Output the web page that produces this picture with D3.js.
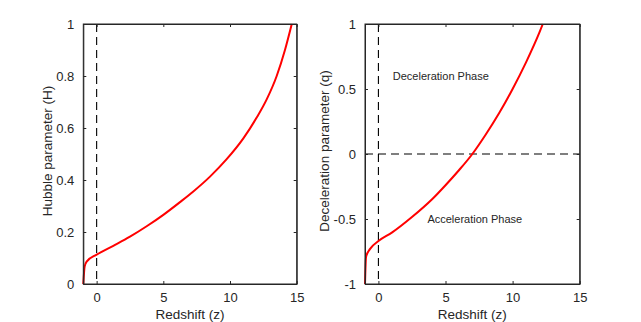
<!DOCTYPE html>
<html lang="en">
<head>
  <meta charset="UTF-8">
  <title>Hubble and deceleration parameter</title>
  <script src="https://d3js.org/d3.v7.min.js"></script>
  <style>
    body { margin: 0; background: #fff; }
    text { font-family: "Liberation Sans", Arial, Helvetica, sans-serif; fill: #262626; }
  </style>
</head>
<body>
  <svg id="chart" width="641" height="322"></svg>

  <script>
    // Hubble parameter H(z)
    const zH = [-1, -0.9, -0.75, 0, 1.25, 2.5, 3.75, 5, 6.25, 7.25, 8.5, 9.75, 11, 12, 12.75, 13.5, 14.12, 14.63];
    const hubble = [0, 0.067, 0.086, 0.113, 0.147, 0.182, 0.222, 0.266, 0.315, 0.356, 0.413, 0.48, 0.56, 0.64, 0.71, 0.8, 0.9, 1.0];

    // Deceleration parameter q(z)
    const zQ = [-1, -0.92, -0.62, 0, 1, 2.5, 4, 5, 6, 7, 8, 9, 10, 11, 12, 12.25];
    const decel = [-1, -0.79, -0.73, -0.67, -0.605, -0.485, -0.348, -0.24, -0.125, 0, 0.15, 0.315, 0.5, 0.705, 0.935, 1.0];

    const xTicks = [0, 5, 10, 15];
    const hTicks = [0, 0.2, 0.4, 0.6, 0.8, 1];
    const qTicks = [-1, -0.5, 0, 0.5, 1];

    const svg = d3.select("#chart");
    const plotTop = 24, plotBottom = 284;

    // draws one MATLAB-style boxed panel
    function panel(opts) {
      const x = d3.scaleLinear().domain([-1, 15]).range([opts.left, opts.right]);
      const y = d3.scaleLinear().domain(opts.yDomain).range([plotBottom, plotTop]);
      const g = svg.append("g");

      // reference dashed lines
      g.append("line")
        .attr("x1", x(0)).attr("x2", x(0))
        .attr("y1", plotTop).attr("y2", plotBottom)
        .attr("stroke", "#000").attr("stroke-width", 1.1)
        .attr("stroke-dasharray", "8,5");
      if (opts.zeroLine) {
        g.append("line")
          .attr("x1", opts.left).attr("x2", opts.right)
          .attr("y1", y(0)).attr("y2", y(0))
          .attr("stroke", "#000").attr("stroke-width", 1.1)
          .attr("stroke-dasharray", "8,5");
      }

      // curve
      const pts = opts.xs.map((v, i) => [v, opts.ys[i]]);
      g.append("path")
        .datum(pts)
        .attr("fill", "none")
        .attr("stroke", "#ff0000")
        .attr("stroke-width", 2)
        .attr("d", d3.line().x(d => x(d[0])).y(d => y(d[1])).curve(d3.curveMonotoneX));

      // axes, ticks inside on all four sides
      const tl = -3;
      const fmt = d => String(d);   // plain hyphen minus like MATLAB
      g.append("g").attr("transform", `translate(0,${plotBottom})`)
        .call(d3.axisBottom(x).tickValues(xTicks).tickSizeInner(tl).tickSizeOuter(0).tickPadding(9).tickFormat(fmt));
      g.append("g").attr("transform", `translate(0,${plotTop})`)
        .call(d3.axisTop(x).tickValues(xTicks).tickSizeInner(tl).tickSizeOuter(0).tickFormat(""));
      g.append("g").attr("transform", `translate(${opts.left},0)`)
        .call(d3.axisLeft(y).tickValues(opts.yTicks).tickSizeInner(tl).tickSizeOuter(0).tickPadding(9).tickFormat(fmt));
      g.append("g").attr("transform", `translate(${opts.right},0)`)
        .call(d3.axisRight(y).tickValues(opts.yTicks).tickSizeInner(tl).tickSizeOuter(0).tickFormat(""));

      g.selectAll(".domain").attr("stroke", "#262626");
      g.selectAll(".tick line").attr("stroke", "#262626");
      g.selectAll(".tick text")
        .style("font-family", '"Liberation Sans", Arial, sans-serif')
        .style("font-size", "13px").attr("fill", "#262626");

      // box
      g.append("rect")
        .attr("x", opts.left).attr("y", plotTop)
        .attr("width", opts.right - opts.left).attr("height", plotBottom - plotTop)
        .attr("fill", "none").attr("stroke", "#262626").attr("stroke-width", 1);

      g.append("text")
        .attr("x", (opts.left + opts.right) / 2).attr("y", 319)
        .attr("text-anchor", "middle").style("font-size", "13.5px")
        .text("Redshift (z)");
      g.append("text")
        .attr("transform", `translate(${opts.labelX},151) rotate(-90)`)
        .attr("text-anchor", "middle").style("font-size", "13.5px")
        .text(opts.yLabel);

      (opts.notes || []).forEach(n => {
        g.append("text")
          .attr("x", x(n.z)).attr("y", y(n.v))
          .attr("dy", "0.35em")
          .style("font-size", "11px").attr("fill", "#000")
          .text(n.text);
      });
    }

    panel({
      left: 83.3, right: 296.7, yDomain: [0, 1], yTicks: hTicks,
      xs: zH, ys: hubble, labelX: 52, yLabel: "Hubble parameter (H)"
    });

    panel({
      left: 365, right: 579.7, yDomain: [-1, 1], yTicks: qTicks,
      xs: zQ, ys: decel, labelX: 329, yLabel: "Deceleration parameter (q)", zeroLine: true,
      notes: [
        { z: 1.07, v: 0.6, text: "Deceleration Phase" },
        { z: 3.65, v: -0.5, text: "Acceleration Phase" }
      ]
    });
  </script>
</body>
</html>
